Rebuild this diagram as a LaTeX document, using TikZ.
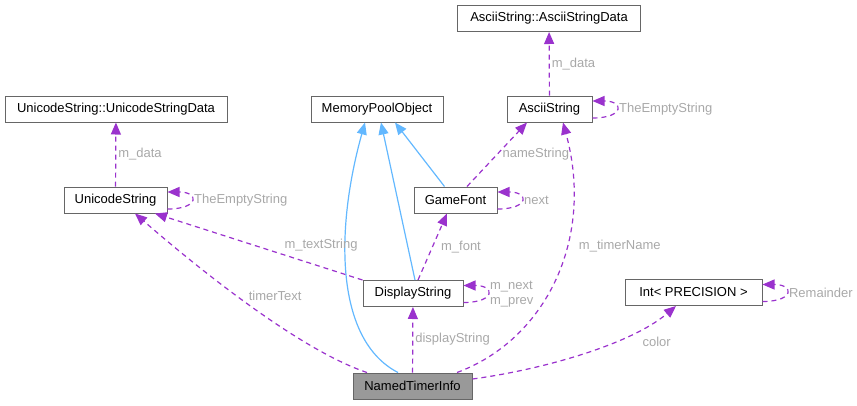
\documentclass[tikz,border=0pt]{standalone}
\usepackage{fontspec}
\setmainfont{Liberation Sans}
\usepackage{xcolor}
\usetikzlibrary{arrows.meta}
\definecolor{orchid}{HTML}{9A32CD}
\definecolor{skyblue}{HTML}{63B8FF}
\definecolor{rimgray}{HTML}{666666}
\definecolor{labelgray}{HTML}{A8A8A8}
\definecolor{focusgray}{HTML}{999999}

\begin{document}
\begin{tikzpicture}[
  x=1pt, y=-1pt,
  font=\fontsize{13}{16}\selectfont,
  cls/.style={draw=rimgray, line width=1pt, fill=white, minimum height=26pt, inner sep=0pt},
  focus/.style={cls, fill=focusgray},
  uses/.style={-{Triangle[length=12pt,width=10pt]}, draw=orchid, line width=1.2pt, dash pattern=on 5pt off 4pt},
  inherits/.style={-{Triangle[length=12pt,width=10pt]}, draw=skyblue, line width=1.2pt},
  lbl/.style={text=labelgray, inner sep=2pt}
]
  \useasboundingbox (0,0) rectangle (857,405);

  \node[cls, minimum width=183pt] (asciidata) at (549,18.5) {AsciiString::AsciiStringData};
  \node[cls, minimum width=85pt] (ascii) at (549.5,109) {AsciiString};
  \node[cls, minimum width=132pt] (pool) at (377,109) {MemoryPoolObject};
  \node[cls, minimum width=222pt] (unidata) at (116,109) {UnicodeString::UnicodeStringData};
  \node[cls, minimum width=103pt] (unicode) at (115.5,200) {UnicodeString};
  \node[cls, minimum width=83pt] (font) at (455.5,200) {GameFont};
  \node[cls, minimum width=100pt] (display) at (413,293.5) {DisplayString};
  \node[focus, minimum width=119pt] (timer) at (412.5,386) {NamedTimerInfo};
  \node[cls, minimum width=137pt] (precision) at (693.5,292.5) {Int< PRECISION >};

  % inheritance
  \draw[inherits] ([xshift=-11pt]font.north) -- ([xshift=18pt]pool.south);
  \draw[inherits] ([xshift=2pt]display.north) -- ([xshift=4pt]pool.south);
  \draw[inherits] ([xshift=-14.5pt]timer.north) .. controls (335,340) and (335,230) .. ([xshift=-12pt]pool.south);

  % members
  \draw[uses] (ascii) -- node[lbl, right] {m\_data} (asciidata);
  \draw[uses] (unicode) -- node[lbl, right] {m\_data} (unidata);
  \draw[uses] ([xshift=11.5pt]font.north) -- node[lbl, right, xshift=3pt] {nameString} ([xshift=-22.5pt]ascii.south);
  \draw[uses] ([xshift=5pt]display.north) -- node[lbl, right, xshift=6pt] {m\_font} ([xshift=-8.5pt]font.south);
  \draw[uses] (display.north west) -- node[lbl, pos=0.2, anchor=south, yshift=13pt] {m\_textString} ([xshift=39.5pt]unicode.south);
  \draw[uses] ([xshift=-45.5pt]timer.north) .. controls (300,350) and (200,270) .. node[lbl, pos=0.4, anchor=south, yshift=20pt] {timerText} ([xshift=19.5pt]unicode.south);
  \draw[uses] (timer) -- node[lbl, right, yshift=1pt] {displayString} (display);
  \draw[uses] ([xshift=44.5pt]timer.north) .. controls (545,340) and (595,240) .. node[lbl, pos=0.62, right, xshift=10pt] {m\_timerName} ([xshift=13.5pt]ascii.south);
  \draw[uses] ([yshift=7pt]timer.east) .. controls (540,370) and (630,345) .. node[lbl, pos=0.78, anchor=north west, yshift=-5pt] {color} ([xshift=-17.5pt]precision.south);

  % self references
  \draw[uses] ([yshift=-9pt]ascii.east) .. controls +(32pt,0pt) and +(32pt,0pt) .. node[lbl, right] {TheEmptyString} ([yshift=8pt]ascii.east);
  \draw[uses] ([yshift=-9pt]unicode.east) .. controls +(32pt,0pt) and +(32pt,0pt) .. node[lbl, right] {TheEmptyString} ([yshift=8pt]unicode.east);
  \draw[uses] ([yshift=-9pt]font.east) .. controls +(32pt,0pt) and +(32pt,0pt) .. node[lbl, right] {next} ([yshift=8pt]font.east);
  \draw[uses] ([yshift=-9pt]display.east) .. controls +(32pt,0pt) and +(32pt,0pt) .. node[lbl, right, align=left, font=\fontsize{13}{15}\selectfont] {m\_next\\m\_prev} ([yshift=8pt]display.east);
  \draw[uses] ([yshift=-9pt]precision.east) .. controls +(32pt,0pt) and +(32pt,0pt) .. node[lbl, right] {Remainder} ([yshift=8pt]precision.east);
\end{tikzpicture}
\end{document}
